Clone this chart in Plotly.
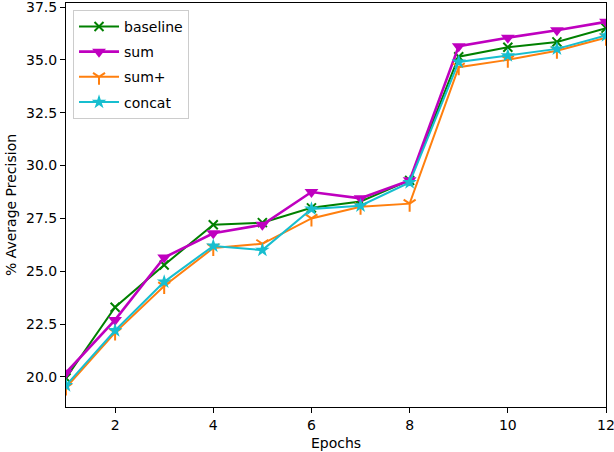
import plotly.graph_objects as go

epochs = [1, 2, 3, 4, 5, 6, 7, 8, 9, 10, 11, 12]
baseline = [19.95, 23.3, 25.3, 27.2, 27.3, 28.0, 28.3, 29.3, 35.15, 35.6, 35.85, 36.5]
sum_ = [20.2, 22.7, 25.65, 26.8, 27.2, 28.75, 28.45, 29.3, 35.65, 36.05, 36.4, 36.8]
sum_plus = [19.5, 22.1, 24.3, 26.1, 26.3, 27.5, 28.05, 28.2, 34.65, 35.0, 35.43, 36.05]
concat = [19.6, 22.2, 24.5, 26.2, 26.0, 27.95, 28.1, 29.2, 34.9, 35.2, 35.52, 36.15]

series = [
    ("baseline", baseline, "#008000", "x-thin-open", 9, 2.0),
    ("sum", sum_, "#bf00bf", "triangle-down", 12, 2.6),
    ("sum+", sum_plus, "#ff7f0e", "y-down-open", 10, 2.0),
    ("concat", concat, "#17becf", "star", 11, 2.0),
]

fig = go.Figure()
for name, vals, color, sym, size, lw in series:
    open_sym = sym.endswith("open")
    fig.add_trace(go.Scatter(
        x=epochs, y=vals, name=name, mode="lines+markers", legendgroup=name,
        line=dict(color=color, width=lw),
        marker=dict(symbol=sym, size=size, color=color,
                    line=dict(color=color, width=2.0 if open_sym else 0)),
    ))

font = dict(family="DejaVu Sans", size=14, color="black")
fig.update_layout(
    width=614, height=452,
    margin=dict(l=66, r=8, t=3, b=45, autoexpand=False),
    paper_bgcolor="white", plot_bgcolor="white",
    font=font,
    showlegend=True,
    legend=dict(x=0.013, y=0.983, xanchor="left", yanchor="top",
                bgcolor="rgba(255,255,255,0.8)", bordercolor="#cccccc", borderwidth=1,
                font=dict(family="DejaVu Sans", size=14, color="black"),
                itemwidth=40, tracegroupgap=4),
    xaxis=dict(range=[1, 12], tickvals=[2, 4, 6, 8, 10, 12],
               showgrid=False, zeroline=False, showline=True, linecolor="black",
               linewidth=1, mirror=True, ticks="outside", ticklen=5, tickcolor="black",
               ticklabeloverflow="allow", automargin=False,
               title=dict(text="Epochs", font=font, standoff=6)),
    yaxis=dict(range=[18.58, 37.69], tickvals=[20, 22.5, 25, 27.5, 30, 32.5, 35, 37.5],
               tickformat=".1f", ticklabeloverflow="allow", automargin=False,
               showgrid=False, zeroline=False, showline=True, linecolor="black",
               linewidth=1, mirror=True, ticks="outside", ticklen=5, tickcolor="black",
               title=dict(text="% Average Precision", font=font, standoff=6)),
)

fig.write_html("out.html", config={"displayModeBar": False},
               post_script="document.body.style.margin='0';document.body.style.padding='0';")
